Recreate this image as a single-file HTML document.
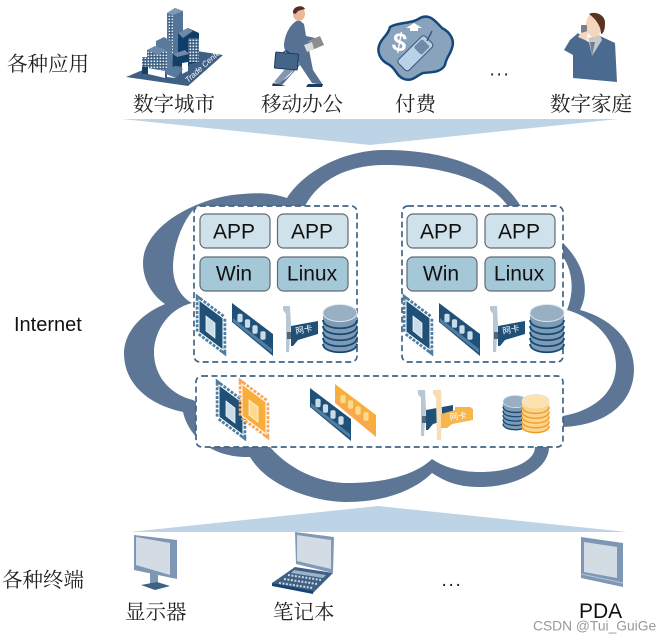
<!DOCTYPE html>
<html><head><meta charset="utf-8"><style>
html,body{margin:0;padding:0;background:#fff}
svg{display:block}
.c{font-family:"Liberation Serif","Noto Serif CJK SC",serif;font-size:20.5px;fill:#222}
.l{font-family:"Liberation Sans",sans-serif;font-size:21px;fill:#111;text-anchor:middle}
</style></head><body>
<svg width="671" height="642" viewBox="0 0 671 642" xmlns="http://www.w3.org/2000/svg">
<defs>
<pattern id="win" width="3" height="3" patternUnits="userSpaceOnUse"><rect width="3" height="3" fill="#34597f"/><rect x=".5" y=".5" width="1.7" height="1.6" fill="#e8eef4"/></pattern>
<g id="chip">
<path d="M199,300L223,318V350L199,332Z" fill="none" stroke="var(--p)" stroke-width="6.500" stroke-dasharray="3 1.4"/>
<path d="M199,300L223,318V350L199,332Z" fill="var(--a)" stroke="#fff" stroke-width="1"/>
<path d="M206,316L215,323V338L206,331Z" fill="var(--d)" stroke="#fff" stroke-width=".7"/>
</g>
<g id="ram">
<path d="M232,303L273,334V356L232,322Z" fill="var(--a)"/>
<path d="M233,318L272,349V353L233,322Z" fill="var(--p)" stroke-dasharray="2 1"/>
<rect x="-2.600" y="-4.200" width="5.200" height="8.400" rx="1.800" transform="translate(240,318)" fill="var(--d)"/>
<rect x="-2.600" y="-4.200" width="5.200" height="8.400" rx="1.800" transform="translate(247.500,323.500)" fill="var(--d)"/>
<rect x="-2.600" y="-4.200" width="5.200" height="8.400" rx="1.800" transform="translate(255,329.500)" fill="var(--d)"/>
<rect x="-2.600" y="-4.200" width="5.200" height="8.400" rx="1.800" transform="translate(263,335.500)" fill="var(--d)"/>
</g>
<g id="nic">
<path d="M283,306H290L291,325L289,352H286L286,314L283,310Z" fill="var(--p)"/>
<path d="M291,326L318,321V334L298,340L293,346H291Z" fill="var(--a)"/>
<rect x="287" y="332" width="4" height="7" fill="#567"/>
</g>
<g id="disk">
<path d="M323,313V343C323,356 357,356 357,343V313Z" fill="var(--a)"/>
<path d="M323,320C323,331 357,331 357,320M323,326C323,337 357,337 357,326M323,332C323,343 357,343 357,332M323,338C323,349 357,349 357,338M323,344C323,355 357,355 357,344" fill="none" stroke="var(--b)" stroke-width="1.800"/>
<ellipse cx="340" cy="313" rx="17" ry="8.500" fill="var(--d)" stroke="#dfe7ee" stroke-width="1"/>
</g>
</defs>

<polygon points="122,119 618,119 370,145" fill="#bdd3e6"/>
<polygon points="130,532 627,532 378,506" fill="#bdd3e6"/>

<path fill="#5e7696" fill-rule="evenodd" d="M165,304C132,318 124,340 124,353C124,385 150,405 183,412C187,430 205,458 250,457C270,490 320,502 347,502C385,502 415,490 432,473C450,485 465,487 480,487C515,487 549,470 549,447L563,427C610,425 634,400 634,369C634,340 610,318 580,310C590,290 585,265 563,243L520,205C495,165 440,150 385,150C345,150 305,170 287,198C270,192 255,193 243,194C200,196 143,225 143,263C143,280 152,295 165,304Z
M192,303C165,310 154,335 154,352C154,378 172,395 193,400L270,447C290,470 320,483 347,483C385,483 415,475 432,459C445,468 462,472 480,472C510,472 535,462 535,447L563,416C595,410 616,392 616,365C616,340 595,318 567,310C575,290 572,270 563,257L507,205C490,180 440,165 385,165C350,165 320,178 305,206L194,209C180,225 173,250 173,267C173,285 182,298 192,303Z"/>

<g fill="#fff" stroke="#3f6587" stroke-width="1.700" stroke-dasharray="6 3.500">
<rect x="194" y="206" width="163" height="156" rx="6"/>
<rect x="402" y="206" width="161" height="156" rx="6"/>
<rect x="196" y="376" width="367" height="71" rx="6"/>
</g>

<g stroke="#5f6b73" stroke-width="1.200">
<g fill="#cfe1ea">
<rect x="200" y="214" width="70" height="34" rx="6"/><rect x="277.500" y="214" width="70.500" height="34" rx="6"/>
<rect x="407" y="214" width="70" height="34" rx="6"/><rect x="485" y="214" width="70" height="34" rx="6"/></g>
<g fill="#a5c8d9">
<rect x="200" y="257" width="70" height="34" rx="6"/><rect x="277.500" y="257" width="70.500" height="34" rx="6"/>
<rect x="407" y="257" width="70" height="34" rx="6"/><rect x="485" y="257" width="70" height="34" rx="6"/></g>
</g>
<text class="l" x="234" y="238.500">APP</text><text class="l" x="312" y="238.500">APP</text>
<text class="l" x="441" y="238.500">APP</text><text class="l" x="519" y="238.500">APP</text>
<text class="l" x="234" y="280.500">Win</text><text class="l" x="312" y="280.500">Linux</text>
<text class="l" x="441" y="280.500">Win</text><text class="l" x="519" y="280.500">Linux</text>

<g style="--a:#1f5078;--b:#164468;--p:#4f7ea1;--d:#c9dce8">
<use href="#chip"/><use href="#ram"/>
<use href="#chip" x="207"/><use href="#ram" x="207"/>
<use href="#chip" x="20" y="85"/><use href="#ram" x="78" y="85"/>
</g>
<g style="--a:#1f5078;--b:#164468;--p:#b9c7d2;--d:#fff">
<use href="#nic"/><use href="#nic" x="207"/><use href="#nic" x="135" y="84"/>
</g>
<g style="--a:#7e9ab5;--b:#154a75;--d:#98afc4">
<use href="#disk"/><use href="#disk" x="207"/>
</g>
<g font-family="'Liberation Sans','Noto Sans CJK SC',sans-serif" font-size="8.500" fill="#fff">
<text x="296" y="334" transform="rotate(-10 296 334)">网卡</text>
<text x="503" y="334" transform="rotate(-10 503 334)">网卡</text>
</g>

<g style="--a:#f9ad3a;--b:#f08a24;--p:#f9a65a;--d:#fbd98f">
<use href="#chip" x="43" y="84"/><use href="#ram" x="103" y="81"/>
</g>
<path d="M433,390H441L442,412L441,440H437L436,398L433,394Z" fill="#f7dcb4"/>
<path d="M441,414L455,410V407H470L473,409V420L452,424L447,428H441Z" fill="#f7b54d"/>
<text x="450" y="420" font-family="'Liberation Sans','Noto Sans CJK SC',sans-serif" font-size="8.500" fill="#fff" transform="rotate(-6 450 420)">网卡</text>
<g transform="translate(503,395) scale(.72,.72) translate(-323,-304)" style="--a:#7e9ab5;--b:#154a75;--d:#98afc4"><use href="#disk"/></g>
<g transform="translate(522,394) scale(.8,.8) translate(-323,-304)" style="--a:#fbd58c;--b:#ee9d2a;--d:#fde2ad"><use href="#disk"/></g>

<!-- city -->
<polygon points="126,77 190,50 223,55 188,86" fill="#3f5f85"/>
<text x="188" y="83" font-family="'Liberation Sans',sans-serif" font-size="8" font-style="italic" fill="#fff" transform="rotate(-42 188 83)">Trade Center</text>
<polygon points="167,13 175,8 183,11 183,55 173,60 167,55" fill="#55749a"/>
<polygon points="167,13 175,8 183,11 173,15" fill="#7f9ab5"/>
<rect x="168" y="15" width="5" height="38" fill="url(#win)"/>
<polygon points="178,33 188,28 199,33 199,62 180,66 178,62" fill="#0f3f68"/>
<polygon points="178,33 188,28 193,31 183,38" fill="#6d8aa8"/>
<rect x="188" y="38" width="11" height="24" fill="url(#win)"/>
<polygon points="156,41 164,37 172,42 172,72 156,72" fill="#5a7a9d"/>
<rect x="147" y="50" width="20" height="20" fill="url(#win)"/>
<polygon points="147,50 155,46 167,50 158,55" fill="#6d8aa8"/>
<rect x="142" y="57" width="6" height="11" fill="url(#win)"/>
<polygon points="142,67 148,67 148,74 142,74" fill="#143f66"/>
<polygon points="173,54 185,50 189,54 189,66 173,66" fill="#123f68"/>
<polygon points="173,54 185,50 189,54 177,57" fill="#6d8aa8"/>
<polygon points="148,68 165,71 165,78 148,74" fill="#fff"/>
<polygon points="167,72 175,73 175,78 167,77" fill="#fff"/>
<polygon points="182,63 188,62 188,71 182,74" fill="#fff"/>
<polygon points="166,70 176,66 183,69 176,78 166,74" fill="#5a7a9d"/>

<!-- businessman -->
<path d="M299,20C292,22 285,32 284,45C284,52 288,55 296,58C297,70 290,78 275,84L282,85L300,65L312,83L323,85L313,70L308,45L318,44L315,38L306,36L304,24Z" fill="#567192"/>
<path d="M296,56L274,82L279,84L300,64Z" fill="#8396ad"/>
<ellipse cx="299" cy="14" rx="6" ry="7" fill="#e5b99a"/>
<path d="M293,13C292,6 303,4 305,9C302,10 297,10 296,14Z" fill="#5a2b28"/>
<path d="M273,83L286,86H272ZM308,84H323L322,87H306Z" fill="#1e3a60"/>
<rect x="275" y="53" width="23" height="16" rx="1" fill="#456588" stroke="#1c3c62" transform="rotate(5 286 61)"/>
<path d="M283,53Q286,49 289,53" fill="none" stroke="#1c3c62"/>
<polygon points="308,41 320,36 324,45 312,50" fill="#8a8f8c"/>
<polygon points="304,45 312,42 314,49 307,52" fill="#d9dcdc"/>

<!-- payment -->
<path d="M390,27C398,22 412,24 420,18C430,13 436,22 442,28C450,32 455,40 452,48C450,55 446,58 445,65C441,73 430,72 423,73C416,76 412,82 404,79C396,76 396,68 388,64C380,60 377,52 379,46C381,38 388,36 390,27Z" fill="#8aa3bd" stroke="#14477a" stroke-width="2.500"/>
<text x="398" y="51" font-family="'Liberation Sans',sans-serif" font-size="26" font-weight="bold" fill="#fff" text-anchor="middle" transform="rotate(10 398 51)">$</text>
<path d="M410,28H406L414,23L422,28H418V31H410Z" fill="#fff"/>
<g transform="rotate(45 415 53)"><rect x="408" y="34" width="15" height="38" rx="3" fill="#b9d2e8" stroke="#36587f"/><rect x="410" y="38" width="11" height="12" rx="2" fill="#6f8aa8"/></g>
<line x1="427" y1="41" x2="432" y2="31" stroke="#36587f" stroke-width="1.500"/>

<text x="500" y="75.500" font-family="'Liberation Sans',sans-serif" font-size="19" letter-spacing="1.700" fill="#222" text-anchor="middle">...</text>

<!-- phone man -->
<path d="M588,42L600,36L615,43L617,82L573,78L573,55L564,50L570,40L578,33Z" fill="#4b6a90"/>
<polygon points="588,38 600,35 602,40 592,56" fill="#c5c9cd"/>
<polygon points="590,42 592,56 595,42" fill="#71808f"/>
<ellipse cx="594" cy="25" rx="8" ry="12" fill="#f3d6bb"/>
<path d="M589,14C594,11 606,14 605,24C605,30 603,34 601,34C601,27 597,20 589,14Z" fill="#5a3320"/>
<rect x="581" y="25" width="6" height="8" rx="1" fill="#77818a"/>
<path d="M581,33L578,37L587,41L588,31Z" fill="#f3d6bb"/>

<!-- monitor -->
<polygon points="134,535 177,540 177,579 134,570" fill="#7e97b4"/>
<polygon points="136,537 170,543 170,575 136,565" fill="#d3dbe5"/>
<polygon points="150,573 158,575 158,587 150,585" fill="#7e97b4"/>
<polygon points="141,585 157,582 170,586 155,590" fill="#3f6186"/>
<!-- laptop -->
<polygon points="295,532 334,537 333,573 296,564" fill="#8099b6"/>
<polygon points="297,535 331,540 331,569 297,561" fill="#d3dbe5"/>
<polygon points="295,567 333,573 313,593 272,583" fill="#3f6186"/>
<polygon points="272,583 313,591 313,594 272,586" fill="#17456f"/>
<polygon points="294,570 326,575 323,578 291,573" fill="#9eb2c8"/>
<g stroke="#cdd8e3" stroke-width="2" stroke-dasharray="2 1.500"><line x1="288" y1="575" x2="321" y2="580"/><line x1="284" y1="579" x2="317" y2="584"/><line x1="279" y1="583" x2="313" y2="588"/></g>
<!-- PDA -->
<polygon points="581,537 623,543 623,587 581,578" fill="#7e97b4"/>
<polygon points="584,542 617,547 617,578 584,572" fill="#d3dbe5"/>
<polyline points="581,574 623,583" stroke="#b5c5d5" stroke-width="1" fill="none"/>

<text class="c" x="7" y="71">各种应用</text>
<text class="c" x="133" y="111">数字城市</text>
<text class="c" x="261" y="111">移动办公</text>
<text class="c" x="395" y="111">付费</text>
<text class="c" x="550" y="111">数字家庭</text>
<text x="14" y="331" font-family="'Liberation Sans',sans-serif" font-size="20" fill="#111">Internet</text>
<text class="c" x="2" y="587">各种终端</text>
<text class="c" x="125" y="619">显示器</text>
<text class="c" x="273" y="619">笔记本</text>
<text x="452" y="586" font-family="'Liberation Sans',sans-serif" font-size="19" letter-spacing="1.700" fill="#222" text-anchor="middle">...</text>
<text x="579" y="618" font-family="'Liberation Sans',sans-serif" font-size="21" fill="#111">PDA</text>
<text x="533" y="630.500" font-family="'Liberation Sans',sans-serif" font-size="13.800" fill="#999">CSDN @Tui_GuiGe</text>
</svg>
</body></html>
